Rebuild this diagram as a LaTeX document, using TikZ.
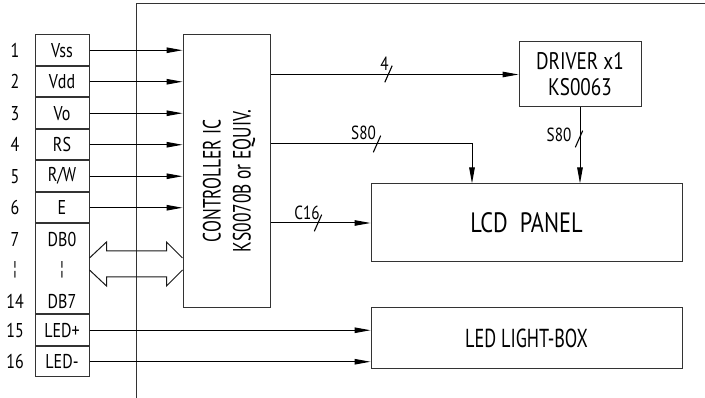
\documentclass[tikz,border=0pt]{standalone}
\usepackage{fontspec}
\setmainfont[FakeStretch=0.8]{PT Sans}
\newfontfamily\condfont[FakeStretch=0.7]{PT Sans}
\usetikzlibrary{arrows.meta,positioning,calc}

\begin{document}
\begin{tikzpicture}[
  x=1pt, y=1pt,
  pinbox/.style={
    rectangle, draw=black!80, line width=1pt,
    minimum width=54pt, minimum height=30.5pt, inner sep=0pt,
    font=\fontsize{20}{22}\selectfont
  },
  pinnum/.style={font=\fontsize{20}{22}\selectfont, inner sep=0pt},
  blockbox/.style={
    rectangle, draw=black!80, line width=1pt,
    inner sep=0pt, align=center
  },
  sig/.style={-{Triangle[length=16pt,width=5.5pt]}, line width=1pt, black},
  busline/.style={line width=1pt, black!90},
  buslbl/.style={font=\fontsize{19}{21}\selectfont, inner sep=0pt},
  tick/.style={line width=1.1pt, black}
]
\useasboundingbox (0,0) rectangle (705,398);

% connector pins
\node[pinbox] (vss) at (62,347.75) {Vss};
\node[pinbox, below=0pt of vss] (vdd) {Vdd};
\node[pinbox, below=0pt of vdd] (vo) {Vo};
\node[pinbox, below=0pt of vo] (rs) {RS};
\node[pinbox, below=0pt of rs] (rw) {R/W};
\node[pinbox, below=0pt of rw] (e) {E};
\node[pinbox, minimum height=90pt, below=0pt of e] (db) {};
\node[pinbox, below=0pt of db] (ledp) {LED+};
\node[pinbox, below=0pt of ledp] (ledm) {LED-};

\node[pinbox, draw=none, below=0pt of db.north] (db0) {DB0};
\node[pinbox, draw=none] (dbdots) at ([yshift=-1pt]db.center) {¦};
\node[pinbox, draw=none, above=-3pt of db.south] (db7) {DB7};

% pin numbers
\foreach \p/\n in {vss/1, vdd/2, vo/3, rs/4, rw/5, e/6, db0/7, dbdots/¦, db7/14, ledp/15, ledm/16}
  \node[pinnum] (num-\p) at (15,0 |- \p) {\n};

% frame line
\coordinate (frameB) at (136,0);
\coordinate (frameT) at (136,394);
\coordinate (frameR) at (705,394);
\draw[line width=1pt, black!80] (frameB) -- (frameT) -- (frameR);

% blocks
\node[blockbox, minimum width=87pt, minimum height=273pt] (ctrl) at (226.5,226.5) {};
\node[rotate=90, align=center, inner sep=0pt,
      font=\condfont\fontsize{25}{30}\selectfont] (ctrltxt) at (229,217)
  {CONTROLLER IC\\KS0070B or EQUIV.};

\node[blockbox, minimum width=122pt, minimum height=65pt,
      font=\fontsize{24}{26}\selectfont] (drv) at (580,323.5)
  {DRIVER x1\\KS0063};

\node[blockbox, minimum width=311pt, minimum height=78pt,
      font=\fontsize{28}{30}\selectfont] (lcd) at (526.5,175) {LCD\ \ PANEL};

\node[blockbox, minimum width=311pt, minimum height=61pt,
      font=\condfont\fontsize{26}{28}\selectfont] (led) at (526.5,59.5) {LED LIGHT-BOX};

% control inputs
\foreach \p in {vss, vdd, vo, rs, rw, e}
  \draw[sig] (\p.east) -- (\p.east -| ctrl.west);

% data bus
\coordinate (busL) at (db.east |- 0,134);
\coordinate (busR) at (ctrl.west |- 0,134);
\draw[busline] ($(busL)+(0,6)$) -- ++(17,16) -- ++(0,-9)
  -- ($(busR)+(-16,13)$) -- ++(0,9) -- ($(busR)+(0,6)$);
\draw[busline] ($(busL)+(0,-6)$) -- ++(17,-16) -- ++(0,9)
  -- ($(busR)+(-16,-13)$) -- ++(0,-9) -- ($(busR)+(0,-6)$);

% controller outputs
\draw[sig] (ctrl.east |- drv) -- (drv);
\coordinate (segTurn) at (472,254);
\draw[sig] (ctrl.east |- segTurn) -- (segTurn) -- (segTurn |- lcd.north);
\draw[sig] (ctrl.east |- lcd) -- (lcd);
\draw[sig] (drv.south) -- (drv.south |- lcd.north);

% backlight
\draw[sig] (ledp.east) -- (ledp.east -| led.west);
\draw[sig] (ledm.east) -- (ledm.east -| led.west);

% bus width marks
\draw[tick] (384.8,315.7) -- ++(7.4,16.6);
\node[buslbl] (lbl4) at (384.5,334.5) {4};
\draw[tick] (373.3,245.7) -- ++(7.4,16.6);
\node[buslbl] (lblseg) at (363.5,265.5) {S80};
\draw[tick] (314.3,166.7) -- ++(7.4,16.6);
\node[buslbl] (lblcom) at (307,185.5) {C16};
\draw[tick] (575.3,250.7) -- ++(7.4,16.6);
\node[buslbl] (lbldrv) at (559,263.5) {S80};

\end{tikzpicture}
\end{document}
